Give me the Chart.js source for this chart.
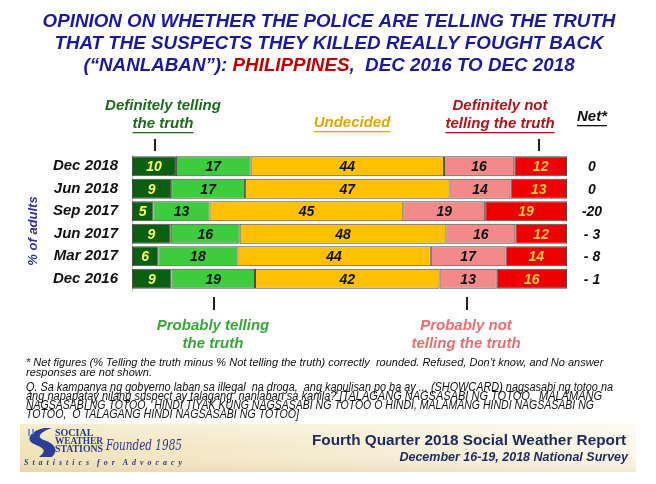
<!DOCTYPE html>
<html lang="en">
<head>
    <meta charset="UTF-8">
    <title>Nanlaban opinion</title>
    <script src="https://cdn.jsdelivr.net/npm/chart.js@4.4.1/dist/chart.umd.min.js"></script>
    <style>
        html, body { margin: 0; padding: 0; background: #fff; }
        #wrap { position: relative; width: 656px; height: 484px; }
    </style>
</head>
<body>
<div id="wrap"><canvas id="survey" width="656" height="484"></canvas></div>

<script>
    // survey rounds, top to bottom
    const rounds = ['Dec 2018', 'Jun 2018', 'Sep 2017', 'Jun 2017', 'Mar 2017', 'Dec 2016'];

    // % of adults per answer
    const defTrue   = [10, 9, 5, 9, 6, 9];
    const probTrue  = [17, 17, 13, 16, 18, 19];
    const undecided = [44, 47, 45, 48, 44, 42];
    const probNot   = [16, 14, 19, 16, 17, 13];
    const defNot    = [12, 13, 19, 12, 14, 16];
    const netScore  = [0, 0, -20, -3, -8, -1];

    const series = [
        { name: 'Definitely telling the truth', values: defTrue,   color: '#0b5f10', text: '#ffff55' },
        { name: 'Probably telling the truth',   values: probTrue,  color: '#3dcc3d', text: '#111' },
        { name: 'Undecided',                    values: undecided, color: '#ffc000', text: '#111' },
        { name: 'Probably not telling the truth', values: probNot, color: '#f28a8a', text: '#111' },
        { name: 'Definitely not telling the truth', values: defNot, color: '#ee0000', text: '#ffcc33' }
    ];

    // every bar in the slide is drawn full width, so widths are shares of the row total
    const rowTotal = rounds.map((r, i) => series.reduce((s, d) => s + d.values[i], 0));

    const F = 'Liberation Sans, Arial, sans-serif';

    function netText(v) {
        if (v < 0 && v > -10) return '- ' + Math.abs(v);
        return String(v);
    }

    function centerText(ctx, txt, x, y, underline) {
        ctx.fillText(txt, x, y);
        if (underline) {
            const w = ctx.measureText(txt).width;
            ctx.fillRect(x - w / 2, y + 8, w, 1.3);
        }
    }

    const decorPlugin = {
        id: 'decor',
        afterDatasetsDraw(chart) {
            const ctx = chart.ctx;
            // values inside the segments
            ctx.save();
            ctx.font = 'italic bold 14px ' + F;
            ctx.textAlign = 'center';
            ctx.textBaseline = 'middle';
            chart.data.datasets.forEach((ds, di) => {
                const meta = chart.getDatasetMeta(di);
                meta.data.forEach((bar, i) => {
                    const p = bar.getCenterPoint();
                    ctx.fillStyle = series[di].text;
                    ctx.fillText(series[di].values[i], p.x, p.y + 1);
                });
            });
            // net column
            const ys = chart.scales.y;
            ctx.fillStyle = '#111';
            rounds.forEach((r, i) => {
                ctx.fillText(netText(netScore[i]), 592, ys.getPixelForValue(i) + 1);
            });
            ctx.restore();
        },
        afterDraw(chart) {
            const ctx = chart.ctx;
            ctx.save();
            ctx.textAlign = 'center';
            ctx.textBaseline = 'middle';

            // title
            ctx.font = 'italic bold 18.8px ' + F;
            ctx.fillStyle = '#1a1aa0';
            ctx.fillText('OPINION ON WHETHER THE POLICE ARE TELLING THE TRUTH', 329, 22);
            ctx.fillText('THAT THE SUSPECTS THEY KILLED REALLY FOUGHT BACK', 329, 43.5);
            const p1 = '(\u201cNANLABAN\u201d): ', p2 = 'PHILIPPINES', p3 = ',  DEC 2016 TO DEC 2018';
            const w1 = ctx.measureText(p1).width, w2 = ctx.measureText(p2).width, w3 = ctx.measureText(p3).width;
            let x0 = 329 - (w1 + w2 + w3) / 2;
            ctx.textAlign = 'left';
            ctx.fillText(p1, x0, 65.5);
            ctx.fillStyle = '#c00000';
            ctx.fillText(p2, x0 + w1, 65.5);
            ctx.fillStyle = '#1a1aa0';
            ctx.fillText(p3, x0 + w1 + w2, 65.5);
            ctx.textAlign = 'center';

            // answer headings above the bars
            ctx.font = 'italic bold 15px ' + F;
            ctx.fillStyle = '#1e6b1e';
            centerText(ctx, 'Definitely telling', 163, 106, false);
            centerText(ctx, 'the truth', 163, 124, true);
            ctx.fillStyle = '#e0a800';
            centerText(ctx, 'Undecided', 352, 123, true);
            ctx.fillStyle = '#b5121b';
            centerText(ctx, 'Definitely not', 500, 106, false);
            centerText(ctx, 'telling the truth', 500, 124, true);
            ctx.fillStyle = '#111';
            centerText(ctx, 'Net*', 592, 117, true);

            // answer headings below the bars
            ctx.fillStyle = '#3aa63a';
            centerText(ctx, 'Probably telling', 213, 326, false);
            centerText(ctx, 'the truth', 213, 344, false);
            ctx.fillStyle = '#ee6e6e';
            centerText(ctx, 'Probably not', 466, 326, false);
            centerText(ctx, 'telling the truth', 466, 344, false);

            // pointer ticks
            ctx.fillStyle = '#222';
            ctx.fillRect(154, 139, 2, 12);
            ctx.fillRect(538, 139, 2, 12);
            ctx.fillRect(213, 297, 2, 13);
            ctx.fillRect(466, 297, 2, 13);

            // axis title
            ctx.save();
            ctx.translate(33, 231);
            ctx.rotate(-Math.PI / 2);
            ctx.font = 'italic bold 13px ' + F;
            ctx.fillStyle = '#3030a8';
            ctx.fillText('% of adults', 0, 0);
            ctx.restore();

            // footnotes
            ctx.textAlign = 'left';
            ctx.fillStyle = '#111';
            ctx.font = 'italic 11px ' + F;
            ctx.fillText('* Net figures (% Telling the truth minus % Not telling the truth) correctly  rounded. Refused, Don\u2019t know, and No answer', 26, 363, 590);
            ctx.fillText('responses are not shown.', 26, 373, 130);
            ctx.font = 'italic 12px ' + F;
            ctx.fillText('Q. Sa kampanya ng gobyerno laban sa illegal  na droga,  ang kapulisan po ba ay ... (SHOWCARD) nagsasabi ng totoo na', 26, 388, 587);
            ctx.fillText('ang napapatay nilang suspect ay talagang  nanlaban sa kanila? [TALAGANG NAGSASABI NG TOTOO,  MALAMANG', 26, 397, 576);
            ctx.fillText('NAGSASABI NG TOTOO,  HINDI TIYAK KUNG NAGSASABI NG TOTOO O HINDI, MALAMANG HINDI NAGSASABI NG', 26, 406, 568);
            ctx.fillText('TOTOO,  O TALAGANG HINDI NAGSASABI NG TOTOO]', 26, 415, 273);

            // report banner
            const g = ctx.createLinearGradient(20, 0, 636, 0);
            g.addColorStop(0, '#f1e2b8');
            g.addColorStop(0.6, '#f7eed6');
            g.addColorStop(1, '#fcf8ec');
            ctx.fillStyle = g;
            ctx.fillRect(20, 424, 616, 48);
            const gv = ctx.createLinearGradient(0, 424, 0, 472);
            gv.addColorStop(0, 'rgba(255,255,255,0.35)');
            gv.addColorStop(0.5, 'rgba(255,255,255,0)');
            gv.addColorStop(1, 'rgba(200,170,110,0.2)');
            ctx.fillStyle = gv;
            ctx.fillRect(20, 424, 616, 48);

            // logo swoosh
            ctx.fillStyle = '#2c3f98';
            ctx.beginPath();
            ctx.moveTo(44, 428);
            ctx.bezierCurveTo(30, 431, 25, 440, 34, 444);
            ctx.bezierCurveTo(43, 448, 48, 450, 39, 457);
            ctx.lineTo(52, 457);
            ctx.bezierCurveTo(59, 450, 55, 444, 44, 440);
            ctx.bezierCurveTo(36, 437, 40, 432, 52, 428);
            ctx.closePath();
            ctx.fill();
            ctx.fillStyle = '#8090d0';
            ctx.fillRect(28, 429, 2, 7);
            ctx.fillRect(32, 429, 2, 5);

            ctx.fillStyle = '#2b3a8c';
            ctx.font = 'bold 10px Liberation Serif, serif';
            ctx.fillText('SOCIAL', 55, 433, 40);
            ctx.fillText('WEATHER', 55, 441, 48);
            ctx.fillText('STATIONS', 55, 449, 48);
            ctx.font = 'italic 14px DejaVu Serif, serif';
            ctx.fillText('Founded 1985', 106, 446, 76);
            ctx.font = 'italic bold 9px Liberation Serif, serif';
            ctx.fillText('S  t  a  t  i  s  t  i  c  s    f  o  r    A  d  v  o  c  a  c  y', 24, 463, 158);

            ctx.textAlign = 'right';
            ctx.fillStyle = '#1d2a5e';
            ctx.font = 'bold 15.5px ' + F;
            ctx.fillText('Fourth Quarter 2018 Social Weather Report', 626, 441, 314);
            ctx.font = 'italic bold 12.5px ' + F;
            ctx.fillText('December 16-19, 2018 National Survey', 628, 458, 270);
            ctx.restore();
        }
    };

    new Chart(document.getElementById('survey'), {
        type: 'bar',
        data: {
            labels: rounds,
            datasets: series.map(s => ({
                label: s.name,
                data: s.values.map((v, i) => v / rowTotal[i] * 100),
                backgroundColor: s.color,
                borderColor: '#4a4a4a',
                borderWidth: 1,
                borderSkipped: false,
                barPercentage: 0.89,
                categoryPercentage: 1
            }))
        },
        options: {
            indexAxis: 'y',
            responsive: false,
            animation: false,
            layout: { padding: { left: 0, right: 89, top: 155, bottom: 194 } },
            plugins: {
                legend: { display: false },
                tooltip: { enabled: false }
            },
            scales: {
                x: { stacked: true, display: false, min: 0, max: 100 },
                y: {
                    stacked: true,
                    afterFit(scale) { scale.width = 132; },
                    grid: { display: false, drawTicks: false },
                    border: { display: true, color: '#c8c8c8' },
                    ticks: {
                        padding: 14,
                        color: '#111',
                        font: { family: F, size: 15, style: 'italic', weight: 'bold' }
                    }
                }
            }
        },
        plugins: [decorPlugin]
    });
</script>
</body>
</html>
